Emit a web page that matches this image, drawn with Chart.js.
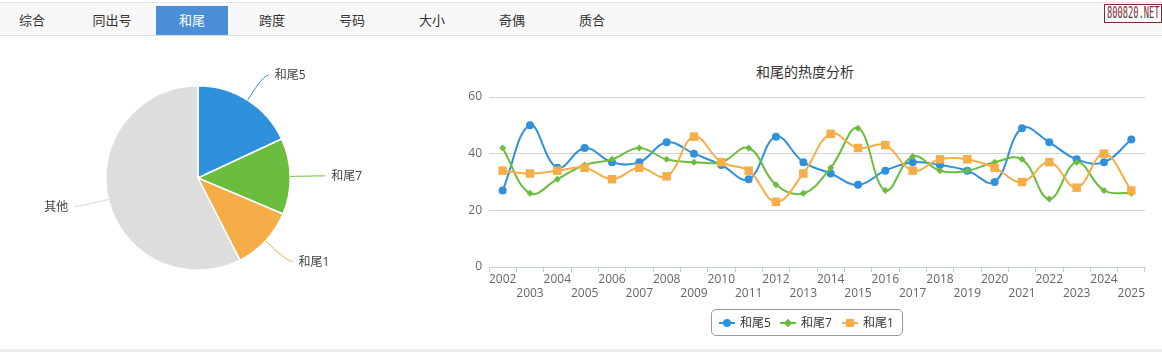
<!DOCTYPE html>
<html lang="zh">
<head>
<meta charset="UTF-8">
<title>和尾</title>
<script src="https://cdn.jsdelivr.net/npm/chart.js"></script>
<style>
  body { margin: 0; background: #fff; font-family: "Open Sans", "Noto Sans CJK SC", sans-serif; }
  .page { position: relative; width: 1162px; height: 352px; overflow: hidden; }
  .tabs { position: absolute; left: 0; top: 2px; width: 1162px; height: 32px; background: #f7f7f7;
          border-top: 1px solid #e6e6e6; border-bottom: 1px solid #dcdcdc; }
  .tab { position: absolute; top: 3px; width: 72px; height: 29px; line-height: 29px; text-align: center;
         font-size: 13px; color: #333; }
  .tab.on { background: #4a8fd6; color: #fff; }
  .badge { position: absolute; left: 1104px; top: 4px; width: 56px; height: 17px; border: 1px solid #7a2a36;
           background: #fff; color: #7a2a36; font: 15px "DejaVu Sans Mono", monospace; line-height: 17px; overflow: hidden; }
  .badge span { position: absolute; left: 2px; top: 0; transform: scaleX(0.58); transform-origin: left center; white-space: nowrap; }
  #pieBox { position: absolute; left: 0; top: 40px; width: 396px; height: 276px; }
  #lineBox { position: absolute; left: 440px; top: 40px; width: 730px; height: 270px; }
  .title { position: absolute; left: 705px; width: 200px; top: 61px; text-align: center; font-size: 14px; color: #333; }
  .legend { position: absolute; left: 711px; top: 309px; width: 190px; height: 25px; border: 1px solid #999;
            border-radius: 5px; font-size: 12px; color: #333; }
  .legend .it { position: absolute; top: 4px; height: 18px; line-height: 18px; }
  .legend .ln { position: absolute; top: 8px; width: 16px; height: 2px; }
  .legend .mk { position: absolute; }
  .legend .tx { position: absolute; left: 21px; white-space: nowrap; }
  .bottom { position: absolute; left: 0; top: 349px; width: 1162px; height: 3px; background: #ececec; }
</style>
</head>
<body>
<div class="page">
  <div class="tabs" id="tabs"></div>
  <div class="badge"><span>800820.NET</span></div>
  <div id="pieBox"><canvas id="pieChart"></canvas></div>
  <div class="title">和尾的热度分析</div>
  <div id="lineBox"><canvas id="lineChart"></canvas></div>
  <div class="legend" id="legend"></div>
  <div class="bottom"></div>
</div>
<script>
const tabNames = ['综合', '同出号', '和尾', '跨度', '号码', '大小', '奇偶', '质合'];
const activeTab = '和尾';

const pieLabels = ['和尾5', '和尾7', '和尾1', '其他'];
const pieValues = [65, 48, 40, 207];

const years = ['2002', '2003', '2004', '2005', '2006', '2007', '2008', '2009', '2010', '2011', '2012', '2013',
               '2014', '2015', '2016', '2017', '2018', '2019', '2020', '2021', '2022', '2023', '2024', '2025'];
const heWei5 = [27, 50, 35, 42, 37, 37, 44, 40, 36, 31, 46, 37, 33, 29, 34, 37, 36, 34, 30, 49, 44, 38, 37, 45];
const heWei7 = [42, 26, 31, 36, 38, 42, 38, 37, 37, 42, 29, 26, 35, 49, 27, 39, 34, 34, 37, 38, 24, 37, 27, 26];
const heWei1 = [34, 33, 34, 35, 31, 35, 32, 46, 37, 34, 23, 33, 47, 42, 43, 34, 38, 38, 35, 30, 37, 28, 40, 27];

const blue = '#2f91db', green = '#6bbd3d', orange = '#f5ad48', grey = '#dddddd';
const fontFamily = '"Open Sans", "Noto Sans CJK SC", sans-serif';

// tab bar
const tabs = document.getElementById('tabs');
tabNames.forEach((name, i) => {
    const d = document.createElement('div');
    d.className = 'tab' + (name === activeTab ? ' on' : '');
    d.style.left = (-4 + 80 * i) + 'px';
    d.textContent = name;
    tabs.appendChild(d);
});

// pie labels with leader lines
const pieLabelPlugin = {
    id: 'pieLabels',
    afterDatasetsDraw(chart) {
        const ctx = chart.ctx;
        const meta = chart.getDatasetMeta(0);
        const colors = chart.data.datasets[0].backgroundColor;
        meta.data.forEach((arc, i) => {
            const mid = (arc.startAngle + arc.endAngle) / 2;
            const r = arc.outerRadius;
            const cos = Math.cos(mid), sin = Math.sin(mid);
            const side = cos >= 0 ? 1 : -1;
            const ox = arc.x + cos * (r + 30), oy = arc.y + sin * (r + 30);
            const px = arc.x + cos * (r + 5), py = arc.y + sin * (r + 5);
            const ex = arc.x + cos * r, ey = arc.y + sin * r;
            ctx.save();
            ctx.strokeStyle = i === 3 ? '#d8d8d8' : colors[i];
            ctx.lineWidth = 1;
            ctx.beginPath();
            ctx.moveTo(ox + side * 5, oy);
            ctx.bezierCurveTo(ox, oy, 2 * px - ex, 2 * py - ey, px, py);
            ctx.lineTo(ex, ey);
            ctx.stroke();
            ctx.fillStyle = '#444';
            ctx.font = '12px ' + fontFamily;
            ctx.textBaseline = 'middle';
            ctx.textAlign = side > 0 ? 'left' : 'right';
            ctx.fillText(chart.data.labels[i], ox + side * 11, oy + 1);
            ctx.restore();
        });
    }
};

new Chart(document.getElementById('pieChart'), {
    type: 'pie',
    data: {
        labels: pieLabels,
        datasets: [{
            data: pieValues,
            backgroundColor: [blue, green, orange, grey],
            borderColor: '#fff',
            borderWidth: 1.5
        }]
    },
    options: {
        responsive: true,
        maintainAspectRatio: false,
        animation: false,
        layout: { padding: { top: 45, bottom: 45, left: 105, right: 105 } },
        plugins: { legend: { display: false }, tooltip: { enabled: false } }
    },
    plugins: [pieLabelPlugin]
});

// line chart
const series = [
    { label: '和尾5', data: heWei5, color: blue, style: 'circle', radius: 4, order: 3 },
    { label: '和尾7', data: heWei7, color: green, style: 'rectRot', radius: 3.5, order: 2 },
    { label: '和尾1', data: heWei1, color: orange, style: 'rect', radius: 6, order: 1 }
];

new Chart(document.getElementById('lineChart'), {
    type: 'line',
    data: {
        labels: years,
        datasets: series.map(s => ({
            label: s.label,
            data: s.data,
            borderColor: s.color,
            backgroundColor: s.color,
            borderWidth: 2,
            tension: 0.4,
            pointStyle: s.style,
            pointRadius: s.radius,
            pointBorderWidth: 0,
            order: s.order
        }))
    },
    options: {
        responsive: true,
        maintainAspectRatio: false,
        animation: false,
        layout: { padding: { left: 0, right: 25, top: 57, bottom: 0 } },
        plugins: { legend: { display: false }, tooltip: { enabled: false } },
        scales: {
            x: {
                offset: true,
                afterFit: s => { s.height = 43; },
                grid: {
                    offset: true,
                    drawOnChartArea: false,
                    tickLength: 5,
                    color: '#c0d0e0'
                },
                border: { color: '#c0d0e0' },
                ticks: {
                    autoSkip: false,
                    maxRotation: 0,
                    padding: 0,
                    color: '#666',
                    font: { size: 12, family: fontFamily, lineHeight: 1.2 },
                    callback: (v, i) => i % 2 === 0 ? years[i] : ['', years[i]]
                }
            },
            y: {
                min: 0,
                max: 60,
                afterFit: s => { s.width = 49; },
                border: { display: false },
                grid: {
                    drawTicks: false,
                    color: c => c.tick.value === 0 ? 'rgba(0,0,0,0)' : '#d3d3d3'
                },
                ticks: {
                    stepSize: 20,
                    padding: 7,
                    color: '#666',
                    font: { size: 12, family: fontFamily }
                }
            }
        }
    }
});

// legend
const legend = document.getElementById('legend');
const itemLeft = [7, 68, 130];
series.forEach((s, i) => {
    const it = document.createElement('div');
    it.className = 'it';
    it.style.left = itemLeft[i] + 'px';
    const ln = document.createElement('div');
    ln.className = 'ln';
    ln.style.background = s.color;
    const mk = document.createElement('div');
    mk.className = 'mk';
    if (s.style === 'circle') {
        Object.assign(mk.style, { left: '4px', top: '5px', width: '8px', height: '8px', borderRadius: '50%', background: s.color });
    } else if (s.style === 'rectRot') {
        Object.assign(mk.style, { left: '5px', top: '6px', width: '6px', height: '6px', transform: 'rotate(45deg)', background: s.color });
    } else {
        Object.assign(mk.style, { left: '4px', top: '5px', width: '8px', height: '8px', background: s.color });
    }
    const tx = document.createElement('div');
    tx.className = 'tx';
    tx.textContent = s.label;
    it.appendChild(ln);
    it.appendChild(mk);
    it.appendChild(tx);
    legend.appendChild(it);
});
</script>
</body>
</html>
